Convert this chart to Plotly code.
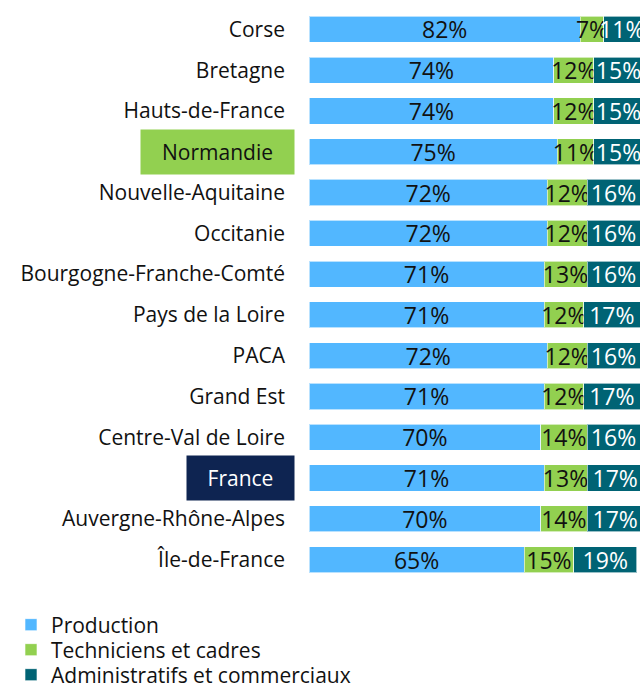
import plotly.graph_objects as go

regions = ["Corse", "Bretagne", "Hauts-de-France", "Normandie", "Nouvelle-Aquitaine",
           "Occitanie", "Bourgogne-Franche-Comté", "Pays de la Loire", "PACA", "Grand Est",
           "Centre-Val de Loire", "France", "Auvergne-Rhône-Alpes", "Île-de-France"]
production = [82, 74, 74, 75, 72, 72, 71, 71, 72, 71, 70, 71, 70, 65]
techniciens = [7, 12, 12, 11, 12, 12, 13, 12, 12, 12, 14, 13, 14, 15]
administratifs = [11, 15, 15, 15, 16, 16, 16, 17, 16, 17, 16, 17, 17, 19]

series = [
    ("Production", production, "#52B7FF", "#111111"),
    ("Techniciens et cadres", techniciens, "#92D050", "#111111"),
    ("Administratifs et commerciaux", administratifs, "#006374", "#FFFFFF"),
]
legend_ids = ["legend", "legend2", "legend3"]
legend_rows = [625, 650, 675]

highlight = {"Normandie": ("#92D050", "#111111", 153), "France": ("#0E2451", "#FFFFFF", 107)}

FONT = "Open Sans"
fig = go.Figure()
for (name, vals, color, tcolor), lid in zip(series, legend_ids):
    fig.add_trace(go.Bar(
        y=regions, x=vals, name=name, orientation="h", legend=lid,
        marker=dict(color=color, line=dict(color="rgba(255,255,255,0.6)", width=1)),
        text=[f"{v}%" for v in vals], textposition="inside", insidetextanchor="middle",
        textangle=0, constraintext="none",
        textfont=dict(family=FONT, size=23, color=tcolor),
        hoverinfo="skip",
    ))

ticktext = ["" if r in highlight else r for r in regions]
legend_common = dict(xref="container", yref="container", x=11 / 640, xanchor="left",
                     yanchor="middle", orientation="v", itemwidth=30,
                     font=dict(family=FONT, size=21, color="#111111"),
                     bgcolor="rgba(0,0,0,0)", borderwidth=0)
fig.update_layout(
    barmode="stack", bargap=0.36,
    width=640, height=683,
    margin=dict(l=309, r=0, t=9, b=103, autoexpand=False),
    plot_bgcolor="white", paper_bgcolor="white",
    font=dict(family=FONT, size=21, color="#111111"),
    uniformtext=dict(minsize=23, mode="show"),
    xaxis=dict(range=[0, 100], visible=False),
    yaxis=dict(autorange="reversed", tickmode="array", tickvals=regions, ticktext=ticktext,
               showgrid=False, zeroline=False, showline=False, ticks="", automargin=False,
               ticklabelstandoff=23, tickfont=dict(family=FONT, size=21, color="#111111")),
    showlegend=True,
)
for lid, row in zip(legend_ids, legend_rows):
    fig.update_layout({lid: dict(legend_common, y=(683 - row) / 683)})

for r, (bg, fc, w) in highlight.items():
    fig.add_annotation(x=0, xref="paper", y=r, yref="y", xanchor="right", xshift=-14,
                       text=r, showarrow=False, bgcolor=bg, width=w, height=44,
                       borderpad=0, font=dict(family=FONT, size=21, color=fc))

fig.write_html("out.html", config={"displayModeBar": False},
               post_script="document.body.style.margin='0';document.body.style.overflow='hidden';")
